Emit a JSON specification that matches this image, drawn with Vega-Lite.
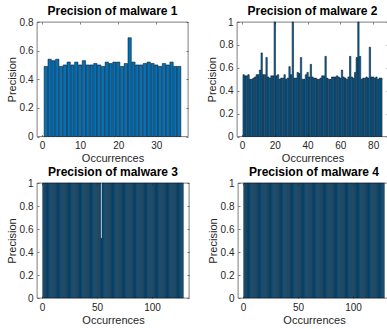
{
  "$schema": "https://vega.github.io/schema/vega-lite/v6.json",
  "padding": {"left": 5, "top": 4, "right": 0, "bottom": 0},
  "datasets": {
    "m1": [
      {"i":1,"p":0.49},{"i":2,"p":0.54},{"i":3,"p":0.53},{"i":4,"p":0.54},{"i":5,"p":0.49},{"i":6,"p":0.50},
      {"i":7,"p":0.52},{"i":8,"p":0.50},{"i":9,"p":0.52},{"i":10,"p":0.50},{"i":11,"p":0.53},{"i":12,"p":0.50},
      {"i":13,"p":0.50},{"i":14,"p":0.51},{"i":15,"p":0.50},{"i":16,"p":0.49},{"i":17,"p":0.52},{"i":18,"p":0.51},
      {"i":19,"p":0.52},{"i":20,"p":0.52},{"i":21,"p":0.49},{"i":22,"p":0.51},{"i":23,"p":0.69},{"i":24,"p":0.52},
      {"i":25,"p":0.50},{"i":26,"p":0.50},{"i":27,"p":0.51},{"i":28,"p":0.52},{"i":29,"p":0.51},{"i":30,"p":0.50},
      {"i":31,"p":0.49},{"i":32,"p":0.51},{"i":33,"p":0.50},{"i":34,"p":0.52},{"i":35,"p":0.49},{"i":36,"p":0.49}
    ],
    "m2": [
      {"i":1,"p":0.54},{"i":2,"p":0.53},{"i":3,"p":0.53},{"i":4,"p":0.54},{"i":5,"p":0.50},{"i":6,"p":0.50},
      {"i":7,"p":0.51},{"i":8,"p":0.52},{"i":9,"p":0.54},{"i":10,"p":0.54},{"i":11,"p":0.58},{"i":12,"p":0.73},
      {"i":13,"p":0.54},{"i":14,"p":0.54},{"i":15,"p":0.69},{"i":16,"p":0.52},{"i":17,"p":0.51},{"i":18,"p":0.53},
      {"i":19,"p":0.53},{"i":20,"p":1.0},{"i":21,"p":0.53},{"i":22,"p":0.54},{"i":23,"p":0.50},{"i":24,"p":0.51},
      {"i":25,"p":0.51},{"i":26,"p":0.54},{"i":27,"p":0.50},{"i":28,"p":0.51},{"i":29,"p":0.61},{"i":30,"p":0.54},
      {"i":31,"p":1.0},{"i":32,"p":0.51},{"i":33,"p":0.51},{"i":34,"p":0.56},{"i":35,"p":0.55},{"i":36,"p":0.69},
      {"i":37,"p":0.50},{"i":38,"p":0.50},{"i":39,"p":0.54},{"i":40,"p":0.56},{"i":41,"p":0.52},{"i":42,"p":0.63},
      {"i":43,"p":0.52},{"i":44,"p":0.51},{"i":45,"p":0.51},{"i":46,"p":0.50},{"i":47,"p":0.50},{"i":48,"p":0.51},
      {"i":49,"p":0.53},{"i":50,"p":0.53},{"i":51,"p":0.70},{"i":52,"p":0.51},{"i":53,"p":0.50},{"i":54,"p":0.50},
      {"i":55,"p":0.52},{"i":56,"p":0.52},{"i":57,"p":0.52},{"i":58,"p":0.53},{"i":59,"p":0.52},{"i":60,"p":0.51},
      {"i":61,"p":0.58},{"i":62,"p":0.52},{"i":63,"p":0.51},{"i":64,"p":0.50},{"i":65,"p":0.52},{"i":66,"p":0.70},
      {"i":67,"p":0.52},{"i":68,"p":0.51},{"i":69,"p":0.56},{"i":70,"p":0.69},{"i":71,"p":1.0},{"i":72,"p":0.70},
      {"i":73,"p":0.50},{"i":74,"p":0.51},{"i":75,"p":0.51},{"i":76,"p":0.52},{"i":77,"p":0.51},{"i":78,"p":0.78},
      {"i":79,"p":0.52},{"i":80,"p":0.52},{"i":81,"p":0.51},{"i":82,"p":0.52},{"i":83,"p":0.50},{"i":84,"p":0.51},
      {"i":85,"p":0.51}
    ],
    "m3": [
      {"i":1,"p":1},{"i":2,"p":1},{"i":3,"p":1},{"i":4,"p":1},{"i":5,"p":1},{"i":6,"p":1},{"i":7,"p":1},{"i":8,"p":1},
      {"i":9,"p":1},{"i":10,"p":1},{"i":11,"p":1},{"i":12,"p":1},{"i":13,"p":1},{"i":14,"p":1},{"i":15,"p":1},{"i":16,"p":1},
      {"i":17,"p":1},{"i":18,"p":1},{"i":19,"p":1},{"i":20,"p":1},{"i":21,"p":1},{"i":22,"p":1},{"i":23,"p":1},{"i":24,"p":1},
      {"i":25,"p":1},{"i":26,"p":1},{"i":27,"p":1},{"i":28,"p":1},{"i":29,"p":1},{"i":30,"p":1},{"i":31,"p":1},{"i":32,"p":1},
      {"i":33,"p":1},{"i":34,"p":1},{"i":35,"p":1},{"i":36,"p":1},{"i":37,"p":1},{"i":38,"p":1},{"i":39,"p":1},{"i":40,"p":1},
      {"i":41,"p":1},{"i":42,"p":1},{"i":43,"p":1},{"i":44,"p":1},{"i":45,"p":1},{"i":46,"p":1},{"i":47,"p":1},{"i":48,"p":1},
      {"i":49,"p":1},{"i":50,"p":1},{"i":51,"p":1},{"i":52,"p":1},{"i":53,"p":1},{"i":54,"p":0.52},{"i":55,"p":1},{"i":56,"p":1},
      {"i":57,"p":1},{"i":58,"p":1},{"i":59,"p":1},{"i":60,"p":1},{"i":61,"p":1},{"i":62,"p":1},{"i":63,"p":1},{"i":64,"p":1},
      {"i":65,"p":1},{"i":66,"p":1},{"i":67,"p":1},{"i":68,"p":1},{"i":69,"p":1},{"i":70,"p":1},{"i":71,"p":1},{"i":72,"p":1},
      {"i":73,"p":1},{"i":74,"p":1},{"i":75,"p":1},{"i":76,"p":1},{"i":77,"p":1},{"i":78,"p":1},{"i":79,"p":1},{"i":80,"p":1},
      {"i":81,"p":1},{"i":82,"p":1},{"i":83,"p":1},{"i":84,"p":1},{"i":85,"p":1},{"i":86,"p":1},{"i":87,"p":1},{"i":88,"p":1},
      {"i":89,"p":1},{"i":90,"p":1},{"i":91,"p":1},{"i":92,"p":1},{"i":93,"p":1},{"i":94,"p":1},{"i":95,"p":1},{"i":96,"p":1},
      {"i":97,"p":1},{"i":98,"p":1},{"i":99,"p":1},{"i":100,"p":1},{"i":101,"p":1},{"i":102,"p":1},{"i":103,"p":1},{"i":104,"p":1},
      {"i":105,"p":1},{"i":106,"p":1},{"i":107,"p":1},{"i":108,"p":1},{"i":109,"p":1},{"i":110,"p":1},{"i":111,"p":1},{"i":112,"p":1},
      {"i":113,"p":1},{"i":114,"p":1},{"i":115,"p":1},{"i":116,"p":1},{"i":117,"p":1},{"i":118,"p":1},{"i":119,"p":1},{"i":120,"p":1},
      {"i":121,"p":1},{"i":122,"p":1},{"i":123,"p":1},{"i":124,"p":1},{"i":125,"p":1},{"i":126,"p":1},{"i":127,"p":1},{"i":128,"p":1}
    ],
    "m4": [
      {"i":1,"p":1},{"i":2,"p":1},{"i":3,"p":1},{"i":4,"p":1},{"i":5,"p":1},{"i":6,"p":1},{"i":7,"p":1},{"i":8,"p":1},
      {"i":9,"p":1},{"i":10,"p":1},{"i":11,"p":1},{"i":12,"p":1},{"i":13,"p":1},{"i":14,"p":1},{"i":15,"p":1},{"i":16,"p":1},
      {"i":17,"p":1},{"i":18,"p":1},{"i":19,"p":1},{"i":20,"p":1},{"i":21,"p":1},{"i":22,"p":1},{"i":23,"p":1},{"i":24,"p":1},
      {"i":25,"p":1},{"i":26,"p":1},{"i":27,"p":1},{"i":28,"p":1},{"i":29,"p":1},{"i":30,"p":1},{"i":31,"p":1},{"i":32,"p":1},
      {"i":33,"p":1},{"i":34,"p":1},{"i":35,"p":1},{"i":36,"p":1},{"i":37,"p":1},{"i":38,"p":1},{"i":39,"p":1},{"i":40,"p":1},
      {"i":41,"p":1},{"i":42,"p":1},{"i":43,"p":1},{"i":44,"p":1},{"i":45,"p":1},{"i":46,"p":1},{"i":47,"p":1},{"i":48,"p":1},
      {"i":49,"p":1},{"i":50,"p":1},{"i":51,"p":1},{"i":52,"p":1},{"i":53,"p":1},{"i":54,"p":1},{"i":55,"p":1},{"i":56,"p":1},
      {"i":57,"p":1},{"i":58,"p":1},{"i":59,"p":1},{"i":60,"p":1},{"i":61,"p":1},{"i":62,"p":1},{"i":63,"p":1},{"i":64,"p":1},
      {"i":65,"p":1},{"i":66,"p":1},{"i":67,"p":1},{"i":68,"p":1},{"i":69,"p":1},{"i":70,"p":1},{"i":71,"p":1},{"i":72,"p":1},
      {"i":73,"p":1},{"i":74,"p":1},{"i":75,"p":1},{"i":76,"p":1},{"i":77,"p":1},{"i":78,"p":1},{"i":79,"p":1},{"i":80,"p":1},
      {"i":81,"p":1},{"i":82,"p":1},{"i":83,"p":1},{"i":84,"p":1},{"i":85,"p":1},{"i":86,"p":1},{"i":87,"p":1},{"i":88,"p":1},
      {"i":89,"p":1},{"i":90,"p":1},{"i":91,"p":1},{"i":92,"p":1},{"i":93,"p":1},{"i":94,"p":1},{"i":95,"p":1},{"i":96,"p":1},
      {"i":97,"p":1},{"i":98,"p":1},{"i":99,"p":1},{"i":100,"p":1},{"i":101,"p":1},{"i":102,"p":1},{"i":103,"p":1},{"i":104,"p":1},
      {"i":105,"p":1},{"i":106,"p":1},{"i":107,"p":1},{"i":108,"p":1},{"i":109,"p":1},{"i":110,"p":1},{"i":111,"p":1},{"i":112,"p":1},
      {"i":113,"p":1},{"i":114,"p":1},{"i":115,"p":1},{"i":116,"p":1},{"i":117,"p":1},{"i":118,"p":1},{"i":119,"p":1},{"i":120,"p":1},
      {"i":121,"p":1},{"i":122,"p":1},{"i":123,"p":1},{"i":124,"p":1},{"i":125,"p":1},{"i":126,"p":1},{"i":127,"p":1},{"i":128,"p":1}
    ]
  },
  "vconcat": [
    {
      "hconcat": [
        {
          "title": "Precision of malware 1",
          "width": 151, "height": 114.5,
          "data": {"name": "m1"},
          "layer": [
            {
              "mark": {"type": "bar", "width": 3.3, "fill": "#0072BD", "stroke": "#000000", "strokeWidth": 0.5},
              "encoding": {
                "x": {"field": "i", "type": "quantitative", "scale": {"domain": [0, 37], "nice": false, "zero": false},
                      "axis": {"values": [0, 10, 20, 30], "format": "d", "title": "Occurrences"}},
                "y": {"field": "p", "type": "quantitative", "scale": {"domain": [0, 0.8], "nice": false},
                      "axis": {"values": [0, 0.2, 0.4, 0.6, 0.8], "format": ".1~f", "title": "Precision"}}
              }
            },
            {
              "mark": {"type": "bar", "width": 1, "opacity": 0},
              "encoding": {
                "x": {"field": "i", "type": "quantitative", "axis": {"orient": "top", "values": [0, 10, 20, 30], "labels": false, "title": null}},
                "y": {"field": "p", "type": "quantitative", "axis": {"orient": "right", "values": [0, 0.2, 0.4, 0.6, 0.8], "labels": false, "title": null}}
              }
            }
          ],
          "resolve": {"axis": {"x": "independent", "y": "independent"}}
        },
        {
          "title": "Precision of malware 2",
          "width": 151, "height": 114.5,
          "data": {"name": "m2"},
          "layer": [
            {
              "mark": {"type": "bar", "width": 1.4, "fill": "#0072BD", "stroke": "#000000", "strokeWidth": 0.5},
              "encoding": {
                "x": {"field": "i", "type": "quantitative", "scale": {"domain": [0, 86], "nice": false, "zero": false},
                      "axis": {"values": [0, 20, 40, 60, 80], "format": "d", "title": "Occurrences"}},
                "y": {"field": "p", "type": "quantitative", "scale": {"domain": [0, 1], "nice": false},
                      "axis": {"values": [0, 0.2, 0.4, 0.6, 0.8, 1], "format": ".1~f", "title": "Precision"}}
              }
            },
            {
              "mark": {"type": "bar", "width": 1, "opacity": 0},
              "encoding": {
                "x": {"field": "i", "type": "quantitative", "axis": {"orient": "top", "values": [0, 20, 40, 60, 80], "labels": false, "title": null}},
                "y": {"field": "p", "type": "quantitative", "axis": {"orient": "right", "values": [0, 0.2, 0.4, 0.6, 0.8, 1], "labels": false, "title": null}}
              }
            }
          ],
          "resolve": {"axis": {"x": "independent", "y": "independent"}}
        }
      ]
    },
    {
      "hconcat": [
        {
          "title": "Precision of malware 3",
          "width": 152, "height": 115,
          "data": {"name": "m3"},
          "layer": [
            {
              "mark": {"type": "bar", "width": 0.95, "fill": "#0072BD", "stroke": "#000000", "strokeWidth": 0.4},
              "encoding": {
                "x": {"field": "i", "type": "quantitative", "scale": {"domain": [0, 129], "nice": false, "zero": false},
                      "axis": {"values": [0, 50, 100], "format": "d", "title": "Occurrences"}},
                "y": {"field": "p", "type": "quantitative", "scale": {"domain": [0, 1], "nice": false},
                      "axis": {"values": [0, 0.2, 0.4, 0.6, 0.8, 1], "format": ".1~f", "title": "Precision"}}
              }
            },
            {
              "mark": {"type": "bar", "width": 1, "opacity": 0},
              "encoding": {
                "x": {"field": "i", "type": "quantitative", "axis": {"orient": "top", "values": [0, 50, 100], "labels": false, "title": null}},
                "y": {"field": "p", "type": "quantitative", "axis": {"orient": "right", "values": [0, 0.2, 0.4, 0.6, 0.8, 1], "labels": false, "title": null}}
              }
            }
          ],
          "resolve": {"axis": {"x": "independent", "y": "independent"}}
        },
        {
          "title": "Precision of malware 4",
          "width": 152, "height": 115,
          "data": {"name": "m4"},
          "layer": [
            {
              "mark": {"type": "bar", "width": 0.95, "fill": "#0072BD", "stroke": "#000000", "strokeWidth": 0.4},
              "encoding": {
                "x": {"field": "i", "type": "quantitative", "scale": {"domain": [0, 129], "nice": false, "zero": false},
                      "axis": {"values": [0, 50, 100], "format": "d", "title": "Occurrences"}},
                "y": {"field": "p", "type": "quantitative", "scale": {"domain": [0, 1], "nice": false},
                      "axis": {"values": [0, 0.2, 0.4, 0.6, 0.8, 1], "format": ".1~f", "title": "Precision"}}
              }
            },
            {
              "mark": {"type": "bar", "width": 1, "opacity": 0},
              "encoding": {
                "x": {"field": "i", "type": "quantitative", "axis": {"orient": "top", "values": [0, 50, 100], "labels": false, "title": null}},
                "y": {"field": "p", "type": "quantitative", "axis": {"orient": "right", "values": [0, 0.2, 0.4, 0.6, 0.8, 1], "labels": false, "title": null}}
              }
            }
          ],
          "resolve": {"axis": {"x": "independent", "y": "independent"}}
        }
      ]
    }
  ],
  "spacing": 1,
  "config": {
    "font": "Liberation Sans",
    "concat": {"spacing": 16},
    "view": {"stroke": "#262626", "strokeWidth": 0.6},
    "title": {"fontSize": 12, "fontWeight": "bold", "color": "#000000", "font": "Liberation Sans", "offset": -1},
    "axis": {
      "labelFont": "Liberation Sans", "labelFontSize": 10, "labelColor": "#262626",
      "titleFont": "Liberation Sans", "titleFontSize": 11, "titleFontWeight": "normal", "titleColor": "#262626",
      "domain": false, "grid": false, "tickColor": "#262626", "tickWidth": 0.6, "tickSize": -2,
      "labelPadding": 6, "titlePadding": 2, "minExtent": 0, "labelFlush": false, "labelOverlap": false
    }
  }
}
